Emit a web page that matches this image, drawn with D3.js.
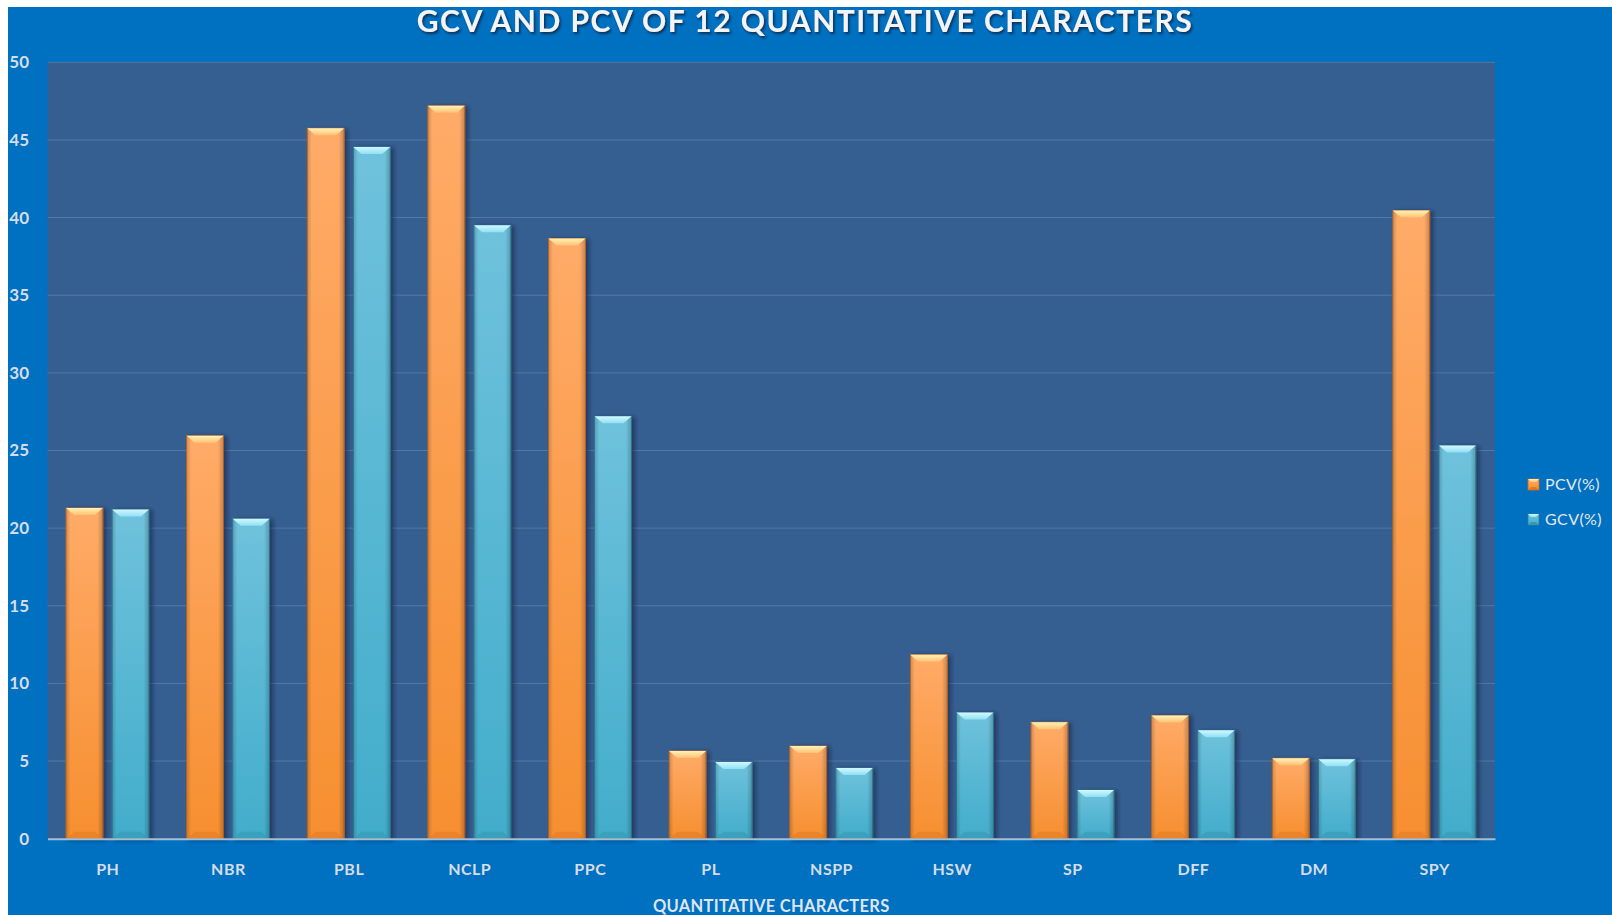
<!DOCTYPE html>
<html>
<head>
<meta charset="utf-8">
<script src="https://cdn.jsdelivr.net/npm/d3@7"></script>
<style>
  html, body { margin: 0; padding: 0; background: #ffffff; }
  svg { display: block; }
</style>
</head>
<body>
<svg id="chart" width="1612" height="915"></svg>
<script>
// chart data
var categories = ["PH", "NBR", "PBL", "NCLP", "PPC", "PL", "NSPP", "HSW", "SP", "DFF", "DM", "SPY"];
var seriesNames = ["PCV(%)", "GCV(%)"];
var pcvValues = [21.3, 25.95, 45.75, 47.2, 38.65, 5.65, 5.97, 11.85, 7.5, 7.93, 5.18, 40.45];
var gcvValues = [21.2, 20.6, 44.55, 39.5, 27.2, 4.94, 4.55, 8.12, 3.13, 6.98, 5.12, 25.33];
var yTickValues = [0, 5, 10, 15, 20, 25, 30, 35, 40, 45, 50];

var Left = 47.5, Right = 1495, Top = 62.3, Bottom = 838.7;
var Bevel = 7;

var svg = d3.select("#chart");

// colours for each series: body top/bottom, bevel top/bottom, edge
var palette = {
  "PCV(%)": { top: "#ffab68", bottom: "#f68f30", hiTop: "#fff3b8", hiBottom: "#ffc173", edge: "#c86a1c", low: "#e07a22" },
  "GCV(%)": { top: "#6fc2dc", bottom: "#42adcb", hiTop: "#d2f8ff", hiBottom: "#8fe0f4", edge: "#2c7f99", low: "#3597b3" }
};

var defs = svg.append("defs");

seriesNames.forEach(function(s, i) {
  var p = palette[s];
  var g = defs.append("linearGradient").attr("id", "body" + i).attr("x1", 0).attr("y1", 0).attr("x2", 0).attr("y2", 1);
  g.append("stop").attr("offset", "0%").attr("stop-color", p.top);
  g.append("stop").attr("offset", "100%").attr("stop-color", p.bottom);
  var h = defs.append("linearGradient").attr("id", "hi" + i).attr("x1", 0).attr("y1", 0).attr("x2", 0).attr("y2", 1);
  h.append("stop").attr("offset", "0%").attr("stop-color", p.hiTop);
  h.append("stop").attr("offset", "100%").attr("stop-color", p.hiBottom);
});

// darker sides on every bar
var side = defs.append("linearGradient").attr("id", "sides").attr("x1", 0).attr("y1", 0).attr("x2", 1).attr("y2", 0);
side.append("stop").attr("offset", "0%").attr("stop-color", "#000").attr("stop-opacity", 0.18);
side.append("stop").attr("offset", "12%").attr("stop-color", "#000").attr("stop-opacity", 0);
side.append("stop").attr("offset", "85%").attr("stop-color", "#000").attr("stop-opacity", 0);
side.append("stop").attr("offset", "100%").attr("stop-color", "#000").attr("stop-opacity", 0.22);

var shadow = defs.append("filter").attr("id", "shadow").attr("x", "-20%").attr("y", "-5%").attr("width", "150%").attr("height", "115%");
shadow.append("feDropShadow").attr("dx", 3).attr("dy", 1).attr("stdDeviation", 2)
  .attr("flood-color", "#14243a").attr("flood-opacity", 0.6);

var titleShadow = defs.append("filter").attr("id", "tshadow").attr("x", "-5%").attr("y", "-30%").attr("width", "110%").attr("height", "160%");
titleShadow.append("feDropShadow").attr("dx", 1.5).attr("dy", 2).attr("stdDeviation", 1.2)
  .attr("flood-color", "#0b2440").attr("flood-opacity", 0.8);

// chart background
svg.append("rect").attr("x", 8).attr("y", 7).attr("width", 1604).attr("height", 908).attr("fill", "#0070c0");
svg.append("rect").attr("x", Left).attr("y", Top).attr("width", Right - Left).attr("height", Bottom - Top).attr("fill", "#365f91");

// scales
var x0 = d3.scaleBand().domain(categories).range([Left, Right]).padding(0);
var x1 = d3.scaleBand().domain(seriesNames).range([18.5, 101.5]).paddingInner(0.2);
var y = d3.scaleLinear().domain([0, 50]).range([Bottom, Top]);

// gridlines
svg.append("g").selectAll("line")
  .data(yTickValues.filter(function(d) { return d > 0; }))
  .enter().append("line")
    .attr("x1", Left).attr("x2", Right)
    .attr("y1", function(d) { return y(d); })
    .attr("y2", function(d) { return y(d); })
    .attr("stroke", "#5279a6").attr("stroke-width", 1);

// bars
var rows = categories.map(function(c, i) {
  return { cat: c, values: [
    { s: seriesNames[0], k: 0, v: pcvValues[i] },
    { s: seriesNames[1], k: 1, v: gcvValues[i] }
  ] };
});

var groups = svg.append("g").selectAll("g")
  .data(rows)
  .enter().append("g")
    .attr("transform", function(d) { return "translate(" + x0(d.cat) + ",0)"; });

var bars = groups.selectAll("g")
  .data(function(d) { return d.values; })
  .enter().append("g");

bars.append("rect")
  .attr("x", function(d) { return x1(d.s); })
  .attr("y", function(d) { return y(d.v); })
  .attr("width", x1.bandwidth())
  .attr("height", function(d) { return y(0) - y(d.v); })
  .attr("fill", function(d) { return "url(#body" + d.k + ")"; })
  .attr("stroke", function(d) { return palette[d.s].edge; })
  .attr("stroke-width", 0.8)
  .attr("filter", "url(#shadow)");

bars.append("rect")
  .attr("x", function(d) { return x1(d.s); })
  .attr("y", function(d) { return y(d.v); })
  .attr("width", x1.bandwidth())
  .attr("height", function(d) { return y(0) - y(d.v); })
  .attr("fill", "url(#sides)");

// top bevel
bars.append("polygon")
  .attr("points", function(d) {
    var a = x1(d.s), b = a + x1.bandwidth(), t = y(d.v);
    return [[a, t], [b, t], [b - Bevel - 1, t + Bevel], [a + Bevel + 1, t + Bevel]].join(" ");
  })
  .attr("fill", function(d) { return "url(#hi" + d.k + ")"; });

// bottom bevel
bars.append("polygon")
  .attr("points", function(d) {
    var a = x1(d.s), b = a + x1.bandwidth(), t = y(0);
    return [[a, t], [b, t], [b - Bevel - 1, t - Bevel], [a + Bevel + 1, t - Bevel]].join(" ");
  })
  .attr("fill", function(d) { return palette[d.s].low; })
  .attr("opacity", 0.55);

// axes
var yAxis = svg.append("g")
  .attr("transform", "translate(" + Left + ",0)")
  .call(d3.axisLeft(y).tickValues(yTickValues).tickSize(0).tickPadding(18.5));
yAxis.select(".domain").remove();
yAxis.selectAll("text")
  .attr("fill", "#d6dde8")
  .style("font", "bold 17px Lato, 'Open Sans', sans-serif");

var xAxis = svg.append("g")
  .attr("transform", "translate(0," + Bottom + ")")
  .call(d3.axisBottom(x0).tickSize(0));
xAxis.select(".domain").attr("stroke", "#a9bdd2").attr("stroke-width", 2);
xAxis.selectAll("text")
  .attr("y", 36).attr("dy", null)
  .attr("fill", "#d6dde8")
  .style("font", "bold 16px Lato, 'Open Sans', sans-serif")
  .style("letter-spacing", "0.5px");

// axis title
svg.append("text")
  .attr("x", (Left + Right) / 2)
  .attr("y", 912)
  .attr("text-anchor", "middle")
  .attr("fill", "#dfe5ee")
  .style("font", "bold 16.5px Lato, 'Open Sans', sans-serif")
  .style("letter-spacing", "0.3px")
  .text("QUANTITATIVE CHARACTERS");

// title
svg.append("text")
  .attr("x", 805)
  .attr("y", 32)
  .attr("text-anchor", "middle")
  .attr("fill", "#f4f4f4")
  .attr("filter", "url(#tshadow)")
  .style("font", "bold 30px Lato, 'Open Sans', sans-serif")
  .style("letter-spacing", "1.5px")
  .text("GCV AND PCV OF 12 QUANTITATIVE CHARACTERS");

// legend
var legend = svg.append("g").selectAll("g")
  .data(seriesNames)
  .enter().append("g")
    .attr("transform", function(d, i) { return "translate(1528," + (479 + i * 35) + ")"; });

legend.append("rect")
  .attr("width", 11).attr("height", 11)
  .attr("fill", function(d, i) { return "url(#body" + i + ")"; })
  .attr("stroke", function(d) { return palette[d].edge; })
  .attr("stroke-width", 0.8);
legend.append("polygon")
  .attr("points", "0,0 11,0 8,3 3,3")
  .attr("fill", function(d, i) { return "url(#hi" + i + ")"; });
legend.append("polygon")
  .attr("points", "0,11 11,11 8,8 3,8")
  .attr("fill", function(d) { return palette[d].low; });

legend.append("text")
  .attr("x", 17).attr("y", 11)
  .attr("fill", "#e4e8ee")
  .style("font", "16px Lato, 'Open Sans', sans-serif")
  .style("letter-spacing", "0.4px")
  .text(function(d) { return d; });
</script>
</body>
</html>
